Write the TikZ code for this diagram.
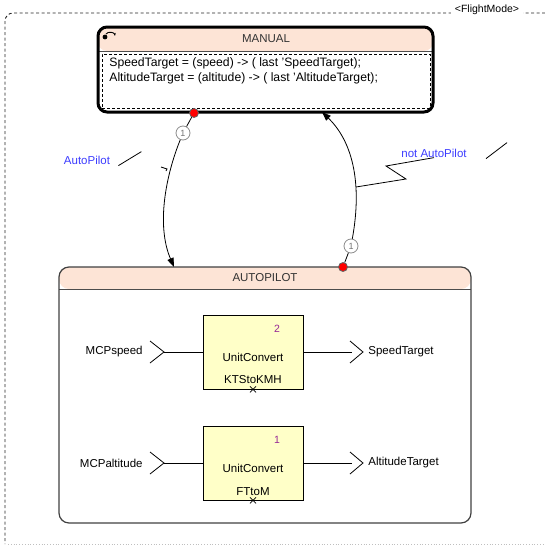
\documentclass[tikz,border=0pt]{standalone}
\usepackage{fontspec}
\setmainfont{Liberation Sans}
\usetikzlibrary{arrows.meta}
\definecolor{headfill}{RGB}{253,228,214}
\definecolor{blockfill}{RGB}{255,255,200}
\definecolor{guardblue}{RGB}{60,60,255}
\definecolor{numpurple}{RGB}{150,40,150}
\tikzset{
  state/.style={draw, path picture={
      \fill[headfill] (path picture bounding box.north west) rectangle ([yshift=-#1]path picture bounding box.north east);
      \draw[black!70, line width=1pt] ([yshift=-#1]path picture bounding box.north west) -- ([yshift=-#1]path picture bounding box.north east);}},
  dot/.style={circle, fill=red, draw=black!60, inner sep=0pt, minimum size=9pt},
  cnt/.style={circle, draw=black!45, fill=white, text=black!55, inner sep=0pt, minimum size=14pt, font=\fontsize{9}{9}\selectfont},
  guard/.style={text=guardblue},
  block/.style={draw, fill=blockfill, minimum width=100pt, minimum height=74pt},
  num/.style={text=numpurple, font=\fontsize{10.5}{12}\selectfont},
  tip/.style={-{Triangle[length=9pt,width=6.5pt]}}
}
\begin{document}
\begin{tikzpicture}[x=1pt, y=-1pt, line width=0.8pt, every node/.style={font=\fontsize{11.5}{14}\selectfont, inner sep=0pt}]
\useasboundingbox (0,0) rectangle (545,546);
% frame
\draw[dash pattern=on 3pt off 2.5pt, black!85, line width=0.9pt, rounded corners=8pt] (545,13) -- (5,13) -- (5,544);
\draw[dotted, black!25] (8,544) -- (545,544);
\node[fill=white, inner xsep=4pt, inner ysep=1pt, font=\fontsize{10.5}{12}\selectfont] (fm) at (487,10) {<FlightMode>};
% states
\node[state=24pt, line width=3pt, rounded corners=9pt, minimum width=335pt, minimum height=85pt] (man) at (265.5,69.5) {};
\node[text=black!80] (manT) at (266,39) {MANUAL};
\node[draw, line width=0.8pt, dash pattern=on 3pt off 2pt, minimum width=328pt, minimum height=54pt] (manB) at (266,81) {};
\node[anchor=north west, align=left, font=\fontsize{12.2}{15}\selectfont] (manE) at (109,57) {SpeedTarget = (speed) -> ( last 'SpeedTarget);\\AltitudeTarget = (altitude) -> ( last 'AltitudeTarget);};
\fill (105,37) circle (2.4);
\draw[line width=0.9pt, -{Stealth[length=3pt]}] (106,34) to[bend left=70] (115,36);
\node[state=22pt, draw=black!75, line width=1.2pt, rounded corners=10pt, minimum width=412pt, minimum height=256pt] (ap) at (265,395) {};
\node[text=black!80] (apT) at (265,278) {AUTOPILOT};
% transitions
\node[dot] (r1) at (194,113) {};
\node[cnt] (c1) at (183,133) {1};
\coordinate (t1) at (174,267);
\node[dot] (r2) at (343,267) {};
\node[cnt] (c2) at (351,246) {1};
\coordinate (t2) at (322,112);
\draw (r1) -- (c1);
\draw[tip] (c1) .. controls (166,175) and (156,225) .. (t1);
\draw (161,167) -- (167,169) -- (166,171);
\draw (r2) -- (c2);
\draw[tip] (c2) .. controls (363,180) and (351,140) .. (t2);
% guards
\node[guard] (g1) at (87,160) {AutoPilot};
\node[guard] (g2) at (434,153) {not AutoPilot};
\draw ([shift={(8,1)}]g1.south east) -- ++(23,-14);
\draw ([shift={(19,1)}]g2.south east) -- ++(21,-16);
\coordinate (k2) at (356,187);
\draw (k2) -- (406,179) -- (386,166) -- (g2.south);
% blocks
\node[block] (b1) at (253,352) {};
\node[num] (b1i) at (277,329) {2};
\node (b1n) at (253,357) {UnitConvert};
\node (b1k) at (253,380) {KTStoKMH};
\draw ([shift={(-3,-3)}]b1.south) -- ++(6,6) ([shift={(3,-3)}]b1.south) -- ++(-6,6);
\node[block] (b2) at (253,463) {};
\node[num] (b2i) at (277,440) {1};
\node (b2n) at (253,468) {UnitConvert};
\node (b2k) at (253,492) {FTtoM};
\draw ([shift={(-3,-3)}]b2.south) -- ++(6,6) ([shift={(3,-3)}]b2.south) -- ++(-6,6);
% ports
\node[anchor=east] (in1) at (143,352) {MCPspeed};
\node[anchor=east] (in2) at (143,463) {MCPaltitude};
\node[anchor=west] (out1) at (368,352) {SpeedTarget};
\node[anchor=west] (out2) at (368,463) {AltitudeTarget};
\coordinate (i1) at (164,352);
\coordinate (i2) at (164,463);
\coordinate (o1) at (352,352);
\coordinate (o2) at (352,463);
\draw (i1) ++(-14,-11) -- (i1) -- ++(-14,11);
\draw (i2) ++(-14,-11) -- (i2) -- ++(-14,11);
\draw (o1) ++(-2,-11) -- ++(13,11) -- ++(-13,11);
\draw (o2) ++(-2,-11) -- ++(13,11) -- ++(-13,11);
\draw (i1) -- (b1);
\draw (i2) -- (b2);
\draw (b1) -- (o1);
\draw (b2) -- (o2);
\end{tikzpicture}
\end{document}
